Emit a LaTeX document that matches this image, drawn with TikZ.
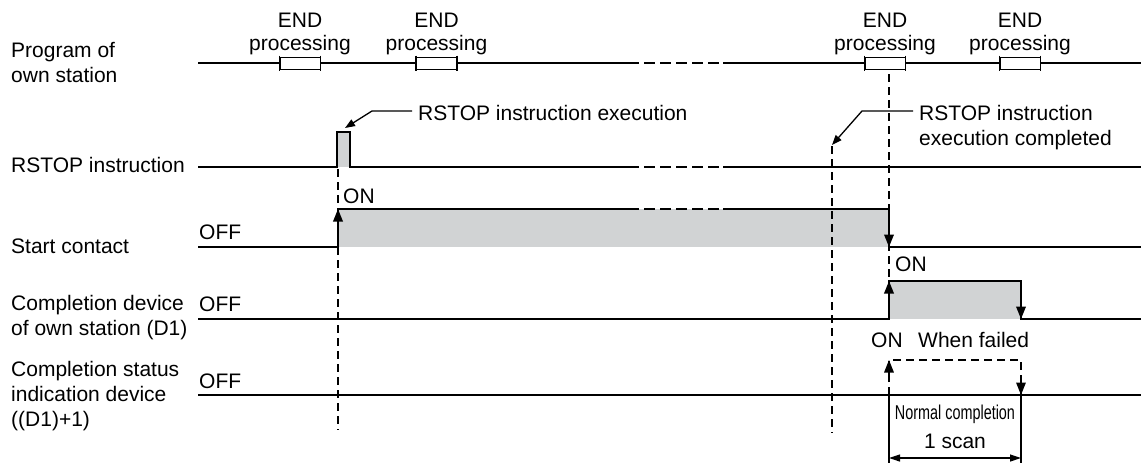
\documentclass[tikz,border=0pt]{standalone}
\usepackage{fontspec}
\setmainfont{Liberation Sans}
\usetikzlibrary{arrows.meta}
\definecolor{pulsegray}{RGB}{209,211,212}

\begin{document}
\begin{tikzpicture}[
		x=1pt, y=-1pt,
		>={Triangle[length=12.5pt, width=9.5pt]},
		txt/.style={font=\fontsize{21}{25}\selectfont, inner sep=0pt, anchor=base west, align=left},
		ctxt/.style={txt, anchor=base, align=center},
		endtxt/.style={ctxt, font=\fontsize{21}{23}\selectfont},
		wave/.style={line width=2pt},
		gapline/.style={wave, dash pattern=on 11pt off 5pt},
		guide/.style={line width=1.5pt, dash pattern=on 8pt off 5pt},
		endbox/.style={draw, fill=white, line width=0.9pt, minimum width=40pt, minimum height=12pt, inner sep=0pt},
		leader/.style={line width=1.3pt, -{Triangle[length=10pt, width=7.5pt]}},
		bracket/.style={line width=1.2pt}
		]
		\useasboundingbox (0,0) rectangle (1141,464);
		
		% Row names on the left (base = last line)
		\node[txt] (prog) at (11,82) {Program of\\own station};
		\node[txt] (rstop) at (11,172) {RSTOP instruction};
		\node[txt] (start) at (11,253) {Start contact};
		\node[txt] (done) at (11,335) {Completion device\\of own station (D1)};
		\node[txt] (stat) at (11,426) {Completion status\\indication device\\((D1)+1)};
		
		% Program of own station
		\draw[wave] (198,63) -- (628,63);
		\draw[gapline] (628,63) -- (723,63);
		\draw[wave] (723,63) -- (1141,63);
		\node[endbox] (end1) at (300,63.5) {};
		\node[endbox] (end2) at (436.5,63.5) {};
		\node[endbox] (end3) at (885,63.5) {};
		\node[endbox] (end4) at (1020,63.5) {};
		\foreach \e in {end1,end2,end3,end4} {
			\draw[line width=1.8pt] ([yshift=1.5pt]\e.north west) -- ([yshift=-1.5pt]\e.south west);
			\draw[line width=1.8pt] ([yshift=1.5pt]\e.north east) -- ([yshift=-1.5pt]\e.south east);
			\node[endtxt] at (\e |- 0,50) {END\\processing};
		}
		
		% Shaded ON periods
		\fill[pulsegray] (337,132) rectangle (350,167);
		\fill[pulsegray] (338,209) rectangle (889,247);
		\fill[pulsegray] (889,281) rectangle (1021,319);
		
		% Dashed timing guides
		\draw[guide] (338,169) -- (338,430);
		\draw[guide] (832,146) -- (832,433);
		\draw[guide] (889,74) -- (889,281);
		
		% RSTOP instruction
		\draw[wave] (198,167) -- (337,167) -- (337,132) -- (350,132) -- (350,167) -- (628,167);
		\draw[gapline] (628,167) -- (723,167);
		\draw[wave] (723,167) -- (1141,167);
		
		% Start contact
		\draw[wave] (198,247) -- (338,247) -- (338,209) -- (628,209);
		\draw[gapline] (628,209) -- (723,209);
		\draw[wave] (723,209) -- (889,209) -- (889,247) -- (1141,247);
		\draw[wave,->] (338,232) -- (338,209);
		\draw[wave,->] (889,226) -- (889,247);
		
		% Completion device
		\draw[wave] (198,319) -- (889,319) -- (889,281) -- (1021,281) -- (1021,319) -- (1141,319);
		\draw[wave,->] (889,302) -- (889,281);
		\draw[wave,->] (1021,300) -- (1021,319);
		
		% Completion status
		\draw[wave] (198,395) -- (1141,395);
		\draw[guide] (889,395) -- (889,360) -- (1021,360) -- (1021,395);
		\draw[line width=1.5pt,->] (889,378) -- (889,360);
		\draw[line width=1.5pt,->] (1021,376) -- (1021,395);
		
		% State labels
		\node[txt] (off1) at (199,239) {OFF};
		\node[txt] (off2) at (199,311) {OFF};
		\node[txt] (off3) at (199,388) {OFF};
		\node[txt] (on1) at (343,203) {ON};
		\node[txt] (on2) at (895,271) {ON};
		\node[txt] (on3) at (871,347) {ON};
		\node[txt] (fail) at (918,347) {When failed};
		
		% Instruction callouts
		\node[txt] (exec) at (418,120) {RSTOP instruction execution};
		\node[txt] (fin) at (919,145) {RSTOP instruction\\execution completed};
		\coordinate (exectip) at (345,128);
		\coordinate (fintip) at (832,145);
		\draw[leader] ([shift={(-6pt,9pt)}]exec.base west) -- ([shift={(-46pt,9pt)}]exec.base west) -- (exectip);
		\draw[leader] ([shift={(-6pt,34pt)}]fin.base west) -- ([shift={(-57pt,34pt)}]fin.base west) -- (fintip);
		
		% One scan span
		\draw[bracket] (889,395) -- (889,463);
		\draw[bracket] (1021,395) -- (1021,463);
		\draw[bracket, {Triangle[length=11pt, width=7pt]}-{Triangle[length=11pt, width=7pt]}] (889,458) -- (1021,458);
		\node[ctxt, font=\fontsize{20}{24}\selectfont] (normal) at (955,419) {\scalebox{0.72}[1]{Normal completion}};
		\node[ctxt] (scan) at (955,448) {1 scan};
		
	\end{tikzpicture}
\end{document}
